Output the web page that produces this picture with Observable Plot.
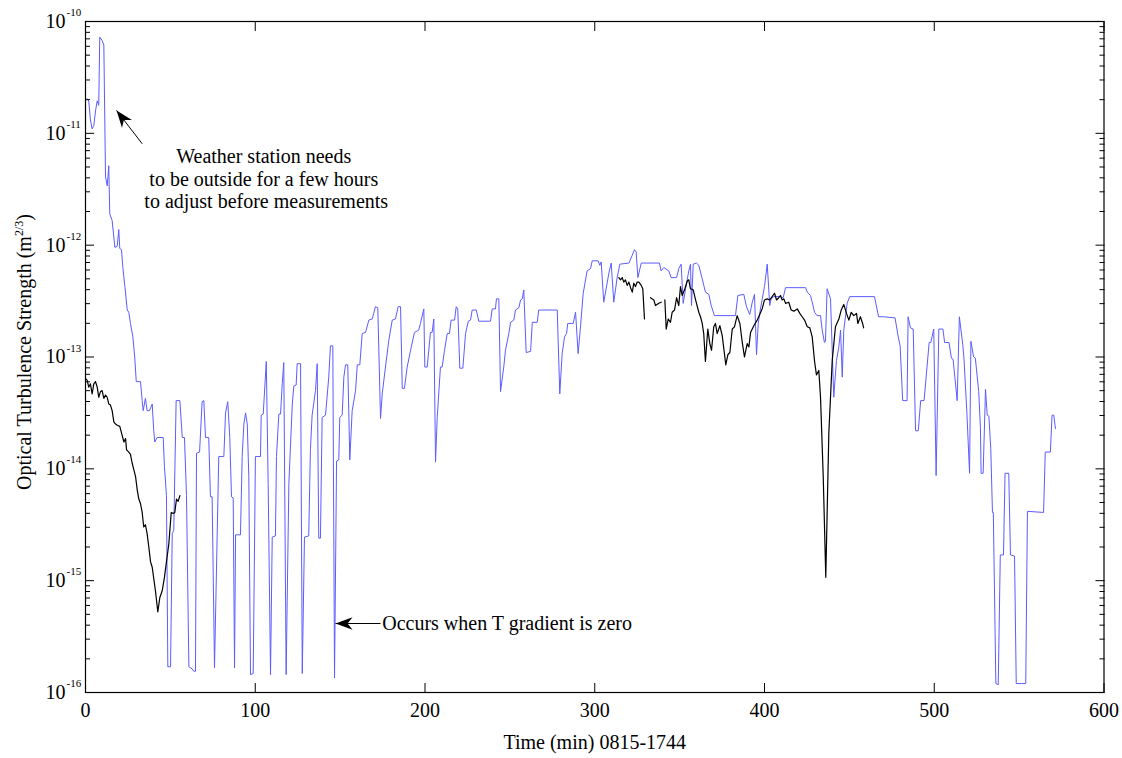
<!DOCTYPE html>
<html>
<head>
<meta charset="utf-8">
<script src="https://cdn.jsdelivr.net/npm/d3@7"></script>
<script src="https://cdn.jsdelivr.net/npm/@observablehq/plot@0.6"></script>
<style>
  html, body { margin: 0; padding: 0; background: #fff; overflow: hidden; }
  #chart { width: 1122px; height: 758px; }
</style>
</head>
<body>
<div id="chart"></div>
<script>
// Axis ticks
const xTicks = [0, 100, 200, 300, 400, 500, 600];
const decadeExponents = [-16, -15, -14, -13, -12, -11, -10];
const minorSteps = [2, 3, 4, 5, 6, 7, 8, 9];

// Weather-station estimate of Cn2 (blue): time in minutes, log10(Cn2)
const blueMinutes = [
  1.0, 1.9, 2.9, 3.9, 4.9, 5.9, 6.9, 7.8, 8.4, 9.8,
  10.8, 11.8, 12.8, 13.7, 14.3, 15.7, 17.3, 18.7, 19.6, 20.2,
  21.2, 22.0, 23.2, 24.6, 25.5, 26.5, 27.9, 29.0, 29.9, 32.4,
  33.4, 34.0, 35.3, 36.3, 37.7, 39.3, 40.2, 40.8, 42.2, 45.8,
  46.5, 47.7, 48.5, 50.1, 51.1, 52.0, 53.4, 55.6, 57.0, 58.3,
  59.5, 60.9, 62.9, 63.8, 64.8, 65.4, 67.2, 68.7, 69.7, 70.7,
  72.6, 73.6, 74.6, 76.0, 78.5, 81.5, 82.5, 83.8, 85.0, 86.0,
  87.0, 87.8, 88.4, 91.3, 92.3, 93.3, 94.3, 95.3, 96.2, 97.2,
  98.8, 100.1, 103.1, 103.5, 104.7, 106.5, 107.6, 109.0, 110.0, 111.9,
  112.5, 113.9, 114.9, 115.9, 116.8, 118.2, 119.8, 121.8, 122.7, 124.1,
  124.7, 126.7, 127.7, 129.0, 131.5, 132.5, 133.5, 135.5, 136.5, 137.4,
  138.4, 139.4, 141.4, 143.3, 144.3, 145.7, 146.7, 147.9, 149.2, 149.8,
  151.2, 152.2, 153.2, 154.5, 155.7, 157.1, 159.1, 160.1, 161.6, 163.0,
  165.0, 166.9, 168.9, 169.8, 170.8, 172.2, 173.8, 174.8, 176.7, 178.7,
  180.7, 182.6, 184.2, 185.6, 186.6, 187.9, 189.5, 191.5, 193.8, 196.3,
  197.3, 199.3, 199.9, 201.3, 203.2, 204.2, 205.2, 206.2, 207.2, 209.1,
  210.1, 211.5, 213.1, 214.4, 215.4, 217.4, 218.4, 219.3, 220.5, 222.3,
  223.9, 225.5, 226.8, 227.8, 230.2, 231.7, 238.6, 239.6, 241.5, 242.1,
  243.5, 244.5, 246.4, 247.4, 249.4, 250.4, 252.3, 253.3, 255.3, 256.3,
  257.3, 258.2, 259.6, 262.2, 263.2, 266.1, 267.0, 277.9, 279.4, 280.8,
  282.2, 283.4, 284.1, 287.3, 288.7, 290.2, 291.6, 293.2, 295.5, 297.5,
  298.5, 302.0, 303.0, 303.8, 305.3, 307.3, 308.3, 309.7, 311.2, 312.2,
  313.2, 314.8, 320.1, 322.1, 323.4, 324.4, 325.4, 327.4, 338.1, 339.1,
  340.7, 343.6, 345.0, 348.2, 349.5, 350.9, 352.1, 353.5, 355.4, 356.4,
  357.0, 358.0, 359.9, 361.3, 363.3, 365.2, 367.2, 368.6, 370.5, 382.9,
  384.3, 387.8, 389.4, 391.3, 392.8, 394.1, 395.3, 396.3, 397.6, 400.0,
  401.6, 403.1, 403.9, 405.5, 409.4, 411.0, 412.4, 424.2, 425.2, 427.1,
  428.1, 429.5, 431.0, 433.0, 434.0, 435.3, 435.9, 436.9, 438.9, 440.8,
  442.4, 443.8, 444.8, 445.8, 446.7, 448.7, 450.2, 464.8, 467.2, 469.9,
  476.9, 478.9, 479.9, 481.4, 484.0, 484.6, 486.0, 487.6, 489.0, 490.6,
  492.0, 494.0, 497.0, 498.0, 499.7, 501.1, 502.7, 505.1, 506.1, 508.7,
  510.1, 511.1, 513.5, 514.8, 516.8, 517.5, 519.2, 520.8, 521.6, 523.2,
  524.2, 526.2, 527.2, 527.6, 528.8, 530.2, 531.2, 532.2, 533.3, 534.3,
  534.8, 536.3, 537.7, 538.9, 540.8, 541.7, 543.9, 544.9, 547.3, 548.3,
  551.3, 553.9, 554.9, 564.4, 565.4, 568.4, 569.4, 570.4, 571.4
];
const blueLog10 = [
  -10.69, -10.71, -10.88, -10.96, -10.93, -10.80, -10.71, -10.75, -10.14, -10.17,
  -10.21, -11.39, -11.47, -11.29, -11.72, -11.78, -12.02, -12.01, -11.86, -12.03,
  -12.04, -12.20, -12.37, -12.58, -12.60, -12.70, -12.82, -13.00, -13.22, -13.22,
  -13.39, -13.48, -13.37, -13.48, -13.48, -13.42, -13.66, -13.76, -13.72, -13.72,
  -13.98, -14.24, -15.77, -15.77, -14.58, -14.55, -13.39, -13.39, -13.72, -13.72,
  -14.24, -15.77, -15.79, -15.81, -15.81, -13.86, -13.85, -13.40, -13.39, -13.72,
  -13.72, -14.25, -14.25, -15.78, -13.89, -13.89, -13.50, -13.40, -13.72, -14.25,
  -14.26, -15.78, -14.59, -14.59, -13.89, -13.60, -13.50, -13.60, -14.07, -15.84,
  -15.83, -13.89, -13.89, -13.52, -13.51, -13.04, -14.13, -15.84, -14.61, -14.60,
  -13.89, -13.51, -13.51, -13.24, -13.05, -15.84, -14.13, -13.43, -13.26, -13.25,
  -13.06, -13.06, -15.83, -14.61, -14.60, -13.83, -13.52, -13.30, -13.06, -14.62,
  -14.62, -13.54, -13.52, -13.18, -12.90, -12.90, -15.87, -13.93, -13.92, -13.54,
  -13.52, -13.18, -13.07, -13.07, -13.92, -13.48, -13.30, -13.07, -13.07, -12.79,
  -12.78, -12.67, -12.66, -12.61, -12.55, -12.56, -13.55, -13.33, -13.09, -12.85,
  -12.67, -12.66, -12.55, -12.55, -13.28, -13.28, -13.09, -12.94, -12.78, -12.76,
  -12.70, -12.57, -13.09, -13.09, -12.78, -12.78, -12.66, -13.94, -13.54, -13.09,
  -13.09, -12.94, -12.79, -12.79, -12.67, -12.67, -12.55, -12.57, -13.10, -13.10,
  -12.79, -12.68, -12.67, -12.58, -12.58, -12.68, -12.68, -12.57, -12.57, -12.48,
  -12.48, -13.31, -13.09, -12.94, -12.79, -12.69, -12.67, -12.58, -12.56, -12.49,
  -12.48, -12.40, -12.96, -12.95, -12.69, -12.69, -12.58, -12.58, -13.33, -12.97,
  -12.82, -12.79, -12.70, -12.70, -12.60, -12.97, -12.73, -12.43, -12.23, -12.21,
  -12.14, -12.14, -12.18, -12.15, -12.51, -12.34, -12.25, -12.16, -12.51, -12.40,
  -12.29, -12.17, -12.16, -12.09, -12.04, -12.06, -12.29, -12.16, -12.16, -12.23,
  -12.20, -12.23, -12.29, -12.29, -12.21, -12.17, -12.52, -12.39, -12.23, -12.17,
  -12.54, -12.17, -12.16, -12.18, -12.30, -12.42, -12.44, -12.54, -12.63, -12.63,
  -12.45, -12.44, -12.55, -12.62, -12.51, -12.44, -12.98, -12.70, -12.57, -12.37,
  -12.17, -12.54, -12.48, -12.46, -12.46, -12.47, -12.38, -12.38, -12.42, -12.45,
  -12.51, -12.60, -12.63, -12.63, -12.76, -12.87, -12.86, -12.39, -12.48, -13.36,
  -13.03, -12.91, -12.76, -13.18, -12.76, -12.52, -12.46, -12.46, -12.64, -12.64,
  -12.65, -12.83, -12.90, -13.39, -13.39, -12.64, -12.74, -12.75, -13.66, -13.66,
  -13.39, -13.39, -12.87, -12.87, -12.75, -14.06, -12.75, -12.75, -12.87, -12.87,
  -13.01, -13.02, -13.39, -12.64, -12.89, -13.01, -13.49, -14.04, -12.86, -13.00,
  -13.01, -13.31, -13.63, -14.04, -14.04, -13.29, -13.52, -13.53, -13.82, -14.39,
  -14.39, -15.92, -15.93, -14.77, -14.77, -14.04, -14.04, -14.77, -14.78, -15.92,
  -15.92, -15.92, -14.38, -14.39, -13.85, -13.85, -13.52, -13.52, -13.64
];

// Scintillometer Cn2 (black), recorded in separate runs
const blackRun1Minutes = [
  0, 1.0, 1.9, 2.9, 3.9, 4.9, 5.9, 6.9, 7.8, 8.8,
  9.8, 10.8, 11.8, 12.8, 13.7, 14.7, 15.7, 16.7, 17.7, 18.7,
  20.2, 21.6, 22.6, 23.6, 24.2, 25.5, 26.5, 27.5, 28.5, 29.5,
  30.5, 31.4, 32.4, 33.4, 34.3, 35.3, 36.3, 37.3, 38.3, 39.3,
  40.2, 41.2, 42.6, 43.8, 45.2, 46.5, 47.7, 49.1, 50.5, 51.7,
  52.6, 53.6, 54.6, 55.6
];
const blackRun1Log10 = [
  -13.19, -13.21, -13.27, -13.24, -13.33, -13.24, -13.22, -13.27, -13.36, -13.31,
  -13.30, -13.37, -13.34, -13.36, -13.42, -13.43, -13.48, -13.58, -13.60, -13.61,
  -13.62, -13.70, -13.76, -13.73, -13.83, -13.85, -13.87, -13.95, -14.01, -14.07,
  -14.19, -14.27, -14.31, -14.39, -14.52, -14.50, -14.58, -14.70, -14.83, -14.88,
  -14.98, -15.09, -15.28, -15.15, -15.09, -14.97, -14.83, -14.67, -14.39, -14.40,
  -14.39, -14.27, -14.29, -14.24
];
const blackRun2Minutes = [314.2, 315.2, 316.2, 317.1, 318.1, 319.1, 320.1, 321.1, 322.1, 323.0, 324.0, 325.0, 326.0, 327.4, 328.3, 329.3];
const blackRun2Log10 = [-12.29, -12.31, -12.29, -12.33, -12.31, -12.36, -12.33, -12.38, -12.42, -12.34, -12.37, -12.33, -12.33, -12.36, -12.39, -12.66];
const blackRun3Minutes = [332.8, 334.8, 335.8, 337.7, 339.2];
const blackRun3Log10 = [-12.47, -12.49, -12.54, -12.52, -12.51];
const blackRun4Minutes = [
  341.3, 342.1, 343.3, 344.6, 345.6, 347.0, 348.2, 349.5, 350.5, 351.5,
  353.1, 354.5, 355.4, 356.4, 358.0, 359.4, 361.3, 362.3, 363.3, 364.2,
  365.2, 366.6, 367.8, 368.8, 370.1, 371.1, 372.1, 373.7, 375.1, 376.4,
  377.2, 378.4, 379.6, 381.0, 382.3, 383.9, 385.5, 386.9, 388.2, 389.8,
  390.8, 391.8, 393.7, 395.7, 396.6, 398.6, 400.0, 401.6, 403.1, 404.5,
  405.9, 407.1, 408.4, 409.4, 410.4, 411.4, 412.4, 414.3, 415.7, 417.3,
  419.3, 420.8, 422.2, 423.6, 425.2, 426.7, 428.1, 429.5, 430.6, 432.0,
  433.0, 434.6, 436.1, 437.9, 439.9, 441.8, 443.8, 445.2, 446.7, 448.3,
  449.7, 451.1, 452.6, 454.2, 455.0, 456.5, 457.8, 458.4
];
const blackRun4Log10 = [
  -12.49, -12.75, -12.66, -12.69, -12.60, -12.58, -12.47, -12.54, -12.37, -12.45,
  -12.39, -12.32, -12.31, -12.39, -12.40, -12.49, -12.60, -12.64, -12.70, -12.79,
  -13.04, -12.75, -12.88, -12.94, -12.73, -12.70, -12.79, -12.72, -12.81, -12.97,
  -13.07, -12.98, -12.96, -12.75, -12.73, -12.63, -12.70, -12.87, -13.00, -12.88,
  -12.91, -12.78, -12.72, -12.67, -12.64, -12.57, -12.49, -12.48, -12.49, -12.46,
  -12.43, -12.49, -12.47, -12.45, -12.49, -12.48, -12.52, -12.51, -12.58, -12.59,
  -12.57, -12.61, -12.64, -12.67, -12.73, -12.74, -12.82, -13.04, -13.16, -13.12,
  -13.36, -14.07, -14.97, -13.68, -13.03, -12.73, -12.66, -12.58, -12.53, -12.61,
  -12.67, -12.60, -12.63, -12.61, -12.70, -12.64, -12.70, -12.74
];

// Text
const xLabel = "Time (min) 0815-1744";
const yLabelMain = "Optical Turbulence Strength (m";
const yLabelSup = "2/3";
const yLabelEnd = ")";
const noteStation = "Weather station needs\nto be outside for a few hours\n\u00a0to adjust before measurements";
const noteZero = "Occurs when T gradient is zero";

// Annotation anchors (minutes, Cn2)
const stationNoteAt = {t: 105, cn2: 3.95e-12};
const stationArrow = {t1: 33.4, v1: 8.07e-12, t2: 18.3, v2: 1.6e-11};
const zeroArrow = {t1: 173.8, v1: 4.14e-16, t2: 147.3, v2: 4.14e-16};
const zeroNoteAt = {t: 174.8, cn2: 4.14e-16};

// Tables for the marks
const blue = blueMinutes.map((t, i) => ({t, cn2: 10 ** blueLog10[i]}));
const blackRuns = [
  [blackRun1Minutes, blackRun1Log10],
  [blackRun2Minutes, blackRun2Log10],
  [blackRun3Minutes, blackRun3Log10],
  [blackRun4Minutes, blackRun4Log10]
];
const black = blackRuns.flatMap(([ts, vs], run) => ts.map((t, i) => ({t, cn2: 10 ** vs[i], run})));
const yMajor = decadeExponents.map(e => 10 ** e);
const yMinor = decadeExponents.slice(0, -1).flatMap(e => minorSteps.map(m => m * 10 ** e));

const serif = "'Liberation Serif', 'Times New Roman', Times, serif";
const blank = () => "";

const chart = Plot.plot({
  width: 1122,
  height: 758,
  marginTop: 21,
  marginRight: 18.5,
  marginBottom: 66,
  marginLeft: 85,
  style: {fontFamily: serif, fontSize: "20px", color: "black", background: "white"},
  x: {domain: [0, 600], axis: null, label: null},
  y: {type: "log", domain: [1e-16, 1e-10], axis: null, label: null},
  marks: [
    Plot.line(blue, {x: "t", y: "cn2", stroke: "#5c5cff", strokeWidth: 1}),
    Plot.line(black, {x: "t", y: "cn2", z: "run", stroke: "black", strokeWidth: 1.2}),
    Plot.frame({stroke: "black", strokeWidth: 1.2}),

    // inward-pointing ticks on all four sides
    Plot.axisX(xTicks, {anchor: "bottom", tickSize: 9, insetBottom: 9, tickFormat: blank, label: null}),
    Plot.axisX(xTicks, {anchor: "top", tickSize: 9, insetTop: 9, tickFormat: blank, label: null}),
    Plot.axisY(yMajor, {anchor: "left", tickSize: 9, insetLeft: 9, tickFormat: blank, label: null}),
    Plot.axisY(yMinor, {anchor: "left", tickSize: 5, insetLeft: 5, tickFormat: blank, label: null}),
    Plot.axisY(yMajor, {anchor: "right", tickSize: 9, insetRight: 9, tickFormat: blank, label: null}),
    Plot.axisY(yMinor, {anchor: "right", tickSize: 5, insetRight: 5, tickFormat: blank, label: null}),

    // tick labels
    Plot.axisX(xTicks, {anchor: "bottom", tickSize: 0, tickPadding: 10, fontSize: 20, label: null}),
    Plot.axisY(yMajor, {anchor: "left", tickSize: 0, tickPadding: 20, tickFormat: () => "10", fontSize: 20, label: null}),
    Plot.text(decadeExponents, {y: e => 10 ** e, text: e => String(e), frameAnchor: "left", textAnchor: "start", dx: -19, dy: -9, fontSize: 11}),

    // axis titles
    Plot.text([xLabel], {frameAnchor: "bottom", dy: 56, fontSize: 20}),
    Plot.text([yLabelMain + yLabelSup + yLabelEnd], {frameAnchor: "left", textAnchor: "middle", dx: -61, dy: -5, rotate: -90, fontSize: 20}),

    // annotations
    Plot.text([noteStation], {x: stationNoteAt.t, y: stationNoteAt.cn2, lineHeight: 1.12, fontSize: 20}),
    Plot.link([stationArrow], {x1: "t1", y1: "v1", x2: "t2", y2: "v2", stroke: "black", strokeWidth: 1, markerEnd: "arrow"}),
    Plot.link([zeroArrow], {x1: "t1", y1: "v1", x2: "t2", y2: "v2", stroke: "black", strokeWidth: 1, markerEnd: "arrow"}),
    Plot.text([noteZero], {x: zeroNoteAt.t, y: zeroNoteAt.cn2, textAnchor: "start", fontSize: 20})
  ]
});

// Filled arrowheads for the annotation arrows
const SVGNS = "http://www.w3.org/2000/svg";
for (const m of chart.querySelectorAll("marker")) {
  m.setAttribute("viewBox", "-18 -7 19 14");
  m.setAttribute("markerWidth", "19");
  m.setAttribute("markerHeight", "14");
  m.setAttribute("markerUnits", "userSpaceOnUse");
  m.setAttribute("fill", "black");
  m.setAttribute("stroke", "none");
  m.replaceChildren();
  const head = document.createElementNS(SVGNS, "path");
  head.setAttribute("d", "M0,0L-17,-6.3L-12,0L-17,6.3Z");
  m.appendChild(head);
}

// Superscript exponent in the y-axis title
for (const t of chart.querySelectorAll("text")) {
  if (t.textContent === yLabelMain + yLabelSup + yLabelEnd) {
    t.textContent = yLabelMain;
    const sup = document.createElementNS(SVGNS, "tspan");
    sup.setAttribute("dy", "-8");
    sup.setAttribute("font-size", "12");
    sup.textContent = yLabelSup;
    const end = document.createElementNS(SVGNS, "tspan");
    end.setAttribute("dy", "8");
    end.textContent = yLabelEnd;
    t.append(sup, end);
  }
}

document.getElementById("chart").appendChild(chart);
</script>
</body>
</html>
